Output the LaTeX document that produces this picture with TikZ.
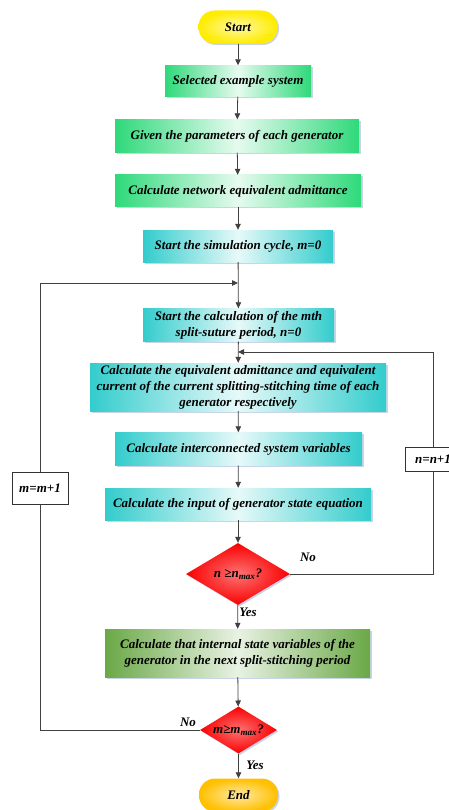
\documentclass[tikz,border=0pt]{standalone}
\usepackage{fontspec}
\setmainfont{Liberation Serif}
\usetikzlibrary{arrows.meta,shapes.geometric,shadows}

\definecolor{startyel}{RGB}{255,236,0}
\definecolor{boxgreen}{RGB}{46,217,122}
\definecolor{boxcyan}{RGB}{51,204,204}
\definecolor{boxolive}{RGB}{106,168,70}
\definecolor{decred}{RGB}{250,0,0}
\definecolor{endgold}{RGB}{255,192,0}
\definecolor{shadowblue}{RGB}{150,170,210}

\begin{document}
\begin{tikzpicture}[x=1pt,y=-1pt,
    font=\bfseries\itshape\fontsize{13}{16}\selectfont,
    base/.style={rectangle, inner sep=1pt, align=center,
      drop shadow={shadow xshift=1.5pt, shadow yshift=-1.5pt, fill=shadowblue, opacity=0.5}},
    greenbox/.style={base, left color=boxgreen, right color=boxgreen, middle color=boxgreen!12},
    cyanbox/.style={base, left color=boxcyan, right color=boxcyan, middle color=boxcyan!12},
    olivebox/.style={base, left color=boxolive, right color=boxolive, middle color=boxolive!15},
    termnode/.style={base, rounded corners=16pt, minimum width=79pt, minimum height=33pt},
    decision/.style={diamond, aspect=1.7, inner sep=0pt, inner color=decred!55, outer color=decred,
      drop shadow={shadow xshift=1.5pt, shadow yshift=-1.5pt, fill=shadowblue, opacity=0.5}},
    counter/.style={rectangle, draw=black!80, line width=0.7pt, fill=white, minimum width=56pt},
    line/.style={draw=black!75, line width=0.8pt},
    flow/.style={line, -{Triangle[length=6pt,width=5.5pt]}}
  ]
  \useasboundingbox (0,0) rectangle (448,810);

  % 开始与初始化
  \node[termnode, inner color=startyel!35, outer color=startyel] (start) at (238,27) {Start};
  \node[greenbox, minimum width=146pt, minimum height=31pt] (sel) at (238,81) {Selected example system};
  \node[greenbox, minimum width=244pt, minimum height=33pt] (given) at (237,136) {Given the parameters of each generator};
  \node[greenbox, minimum width=246pt, minimum height=32pt] (net) at (238,191) {Calculate network equivalent admittance};
  \node[cyanbox, minimum width=190pt, minimum height=32pt] (cyc) at (238,246) {Start the simulation cycle, \textit{m}=0};

  % 内层循环
  \node[cyanbox, minimum width=191pt, minimum height=33pt] (mth) at (238.5,325)
    {Start the calculation of the mth\\split-suture period, \textit{n}=0};
  \node[cyanbox, minimum width=296pt, minimum height=48pt] (eq) at (238,387)
    {Calculate the equivalent admittance and equivalent\\current of the current splitting-stitching time of each\\generator respectively};
  \node[cyanbox, minimum width=247pt, minimum height=33pt] (inter) at (238.5,449) {Calculate interconnected system variables};
  \node[cyanbox, minimum width=266pt, minimum height=32pt] (inp) at (238,504) {Calculate the input of generator state equation};
  \node[decision, minimum width=104pt, minimum height=62pt] (dn) at (238,574) {n ≥n\textsubscript{max}?};
  \node[counter, minimum height=24pt] (nbox) at (433,459) {n=n+1};

  % 外层循环
  \node[olivebox, minimum width=265pt, minimum height=48pt] (gbox) at (237.5,653)
    {Calculate that internal state variables of the\\generator in the next split-stitching period};
  \node[decision, minimum width=77pt, minimum height=47pt] (dm) at (238.5,730) {m≥m\textsubscript{max}?};
  \node[counter, minimum height=32pt] (mbox) at (40,488) {m=m+1};
  \node[termnode, inner color=endgold!35, outer color=endgold] (end) at (238.5,795) {End};

  % 汇合点
  \coordinate (jm) at (238,283);
  \coordinate (jn) at (238,352);
  \coordinate (nb) at (433,574);

  % 连线
  \draw[flow] (start) -- (sel);
  \draw[flow] (sel) -- (given);
  \draw[flow] (given) -- (net);
  \draw[flow] (net) -- (cyc);
  \draw[flow] (cyc) -- (mth);
  \draw[flow] (mth) -- (eq);
  \draw[flow] (eq) -- (inter);
  \draw[flow] (inter) -- (inp);
  \draw[flow] (inp) -- (dn);
  \draw[flow] (dn) -- (gbox);
  \draw[flow] (gbox) -- (dm);
  \draw[flow] (dm) -- (end);
  \draw[line] (dn.east) -- (nb) -- (nbox.south);
  \draw[flow] (nbox.north) |- (jn);
  \draw[line] (dm.west) -| (mbox.south);
  \draw[flow] (mbox.north) |- (jm);

  % 标注
  \node (no1) at (308,557) {No};
  \node (yes1) at (248,612) {Yes};
  \node (no2) at (188,722) {No};
  \node (yes2) at (255,765) {Yes};
\end{tikzpicture}
\end{document}
